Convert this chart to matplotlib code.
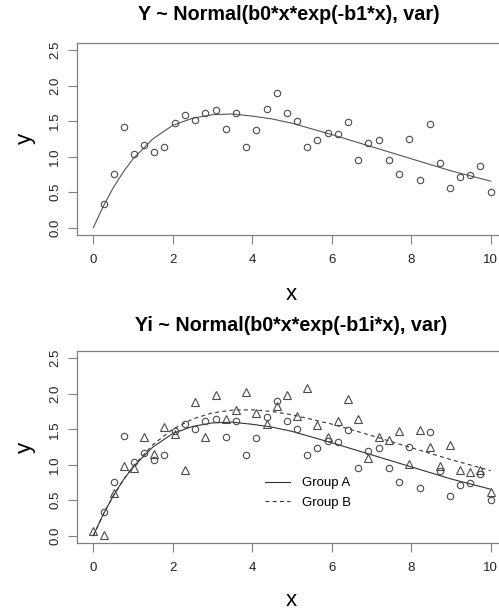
import matplotlib
matplotlib.use("Agg")
import matplotlib.pyplot as plt

plt.rcParams['font.family'] = ['Liberation Sans', 'DejaVu Sans']

# observed x positions
x_pts = [0.00, 0.26, 0.51, 0.77, 1.03, 1.28, 1.54, 1.79, 2.05, 2.31,
         2.56, 2.82, 3.08, 3.33, 3.59, 3.85, 4.10, 4.36, 4.62, 4.87,
         5.13, 5.38, 5.64, 5.90, 6.15, 6.41, 6.67, 6.92, 7.18, 7.44,
         7.69, 7.95, 8.21, 8.46, 8.72, 8.97, 9.23, 9.49, 9.74, 10.00]

# group A (circles), no point at x = 0
x_a = x_pts[1:]
y_a = [0.33, 0.755, 1.41, 1.04, 1.16, 1.07, 1.135, 1.48, 1.58, 1.51,
       1.61, 1.65, 1.39, 1.62, 1.135, 1.37, 1.67, 1.895, 1.61, 1.50,
       1.135, 1.23, 1.33, 1.32, 1.49, 0.95, 1.19, 1.24, 0.95, 0.755,
       1.25, 0.666, 1.46, 0.91, 0.56, 0.72, 0.74, 0.87, 0.50]

# group B (triangles)
x_b = x_pts
y_b = [0.07, 0.01, 0.60, 0.98, 0.96, 1.39, 1.15, 1.53, 1.43, 0.93,
       1.89, 1.39, 1.98, 1.65, 1.77, 2.02, 1.73, 1.58, 1.83, 1.98,
       1.69, 2.08, 1.56, 1.39, 1.61, 1.92, 1.64, 1.10, 1.39, 1.35,
       1.48, 1.01, 1.49, 1.25, 0.98, 1.28, 0.92, 0.90, 0.93, 0.62]

# fitted curves
x_fit = [0, 0.25, 0.5, 0.75, 1, 1.5, 2, 2.5, 3, 3.5, 4, 4.5, 5, 6, 7, 8, 9, 10]
fit_a = [0, 0.30, 0.56, 0.78, 0.97, 1.25, 1.44, 1.54, 1.59, 1.60, 1.57,
         1.53, 1.47, 1.31, 1.14, 0.97, 0.80, 0.655]
fit_b = [0, 0.30, 0.557, 0.782, 0.976, 1.284, 1.501, 1.645, 1.731, 1.770,
         1.774, 1.750, 1.705, 1.573, 1.411, 1.240, 1.072, 0.916]

W, H = 499, 609
fig = plt.figure(figsize=(W / 100, H / 100), dpi=100)

frame_col = '#808080'
pt_col = '#4a4a4a'


def px(x0, y0, x1, y1):
    # pixel box (left, top, right, bottom) -> figure fractions
    return [x0 / W, 1 - y1 / H, (x1 - x0) / W, (y1 - y0) / H]


def style(ax):
    ax.set_xlim(-0.4, 10.4)
    ax.set_ylim(-0.1, 2.6)
    ax.set_xticks([0, 2, 4, 6, 8, 10])
    ax.set_yticks([0.0, 0.5, 1.0, 1.5, 2.0, 2.5])
    ax.set_yticklabels(['0.0', '0.5', '1.0', '1.5', '2.0', '2.5'],
                       rotation=90, va='center')
    ax.tick_params(direction='out', length=6.5, width=0.8, color=frame_col,
                   labelsize=9.5, labelcolor='#222222')
    ax.tick_params(axis='x', pad=7)
    ax.tick_params(axis='y', pad=5)
    for s in ax.spines.values():
        s.set_color(frame_col)
        s.set_linewidth(0.9)


ax1 = fig.add_axes(px(77.4, 42.9, 506.6, 234.8))
style(ax1)
ax1.plot(x_fit, fit_a, color='#555555', lw=0.8)
ax1.plot(x_a, y_a, 'o', mfc='none', mec=pt_col, ms=4.6, mew=0.8)
fig.text(289 / W, 1 - 20.5 / H, 'Y ~ Normal(b0*x*exp(-b1*x), var)',
         ha='center', va='baseline', fontsize=14.2, fontweight='bold')
fig.text(25 / W, 1 - 138.9 / H, 'y', rotation=90, ha='center', va='center',
         fontsize=16)
fig.text(291.7 / W, 1 - 300 / H, 'x', ha='center', va='baseline', fontsize=16)

ax2 = fig.add_axes(px(77.4, 351.2, 506.6, 542.8))
style(ax2)
ax2.plot(x_fit, fit_a, color='#333333', lw=0.8, label='Group A')
ax2.plot(x_fit, fit_b, color='#333333', lw=0.8, dashes=(3.5, 3),
         label='Group B')
ax2.plot(x_a, y_a, 'o', mfc='none', mec=pt_col, ms=4.6, mew=0.8)
ax2.plot(x_b, y_b, '^', mfc='none', mec=pt_col, ms=6.2, mew=0.8)
ax2.legend(loc='center left', bbox_to_anchor=(265 / W, 1 - 493 / H),
           bbox_transform=fig.transFigure, frameon=False, fontsize=9.5,
           handlelength=1.9, handletextpad=0.9, labelspacing=0.55,
           borderpad=0, borderaxespad=0)
fig.text(291 / W, 1 - 330.7 / H, 'Yi ~ Normal(b0*x*exp(-b1i*x), var)',
         ha='center', va='baseline', fontsize=14.2, fontweight='bold')
fig.text(25 / W, 1 - 447 / H, 'y', rotation=90, ha='center', va='center',
         fontsize=16)
fig.text(291.7 / W, 1 - 605.5 / H, 'x', ha='center', va='baseline',
         fontsize=16)

fig.savefig('out.png', dpi=100)
